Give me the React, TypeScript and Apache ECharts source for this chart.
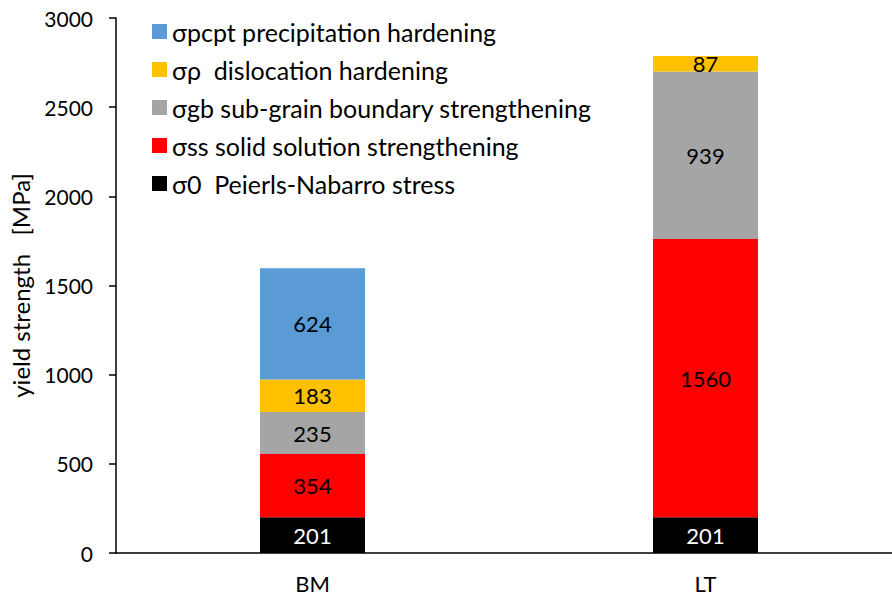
import React, { useEffect, useRef } from "react";
import * as echarts from "echarts";

const categories = ["BM", "LT"];
const sigma0 = [201, 201];
const sigmaSS = [354, 1560];
const sigmaGB = [235, 939];
const sigmaRho = [183, 87];
const sigmaPcpt: (number | null)[] = [624, null];

const names = {
  p0: "σ0  Peierls-Nabarro stress",
  ss: "σss solid solution strengthening",
  gb: "σgb sub-grain boundary strengthening",
  rho: "σρ  dislocation hardening",
  pcpt: "σpcpt precipitation hardening",
};

const FONT = "Lato, 'Open Sans', sans-serif";

export default function App() {
  const ref = useRef<HTMLDivElement>(null);
  useEffect(() => {
    if (!ref.current) return;
    const chart = echarts.init(ref.current, undefined, { renderer: "svg" });
    const mk = (name: string, data: (number | null)[], color: string, labelColor: string) => ({
      name,
      type: "bar",
      stack: "total",
      barWidth: 105,
      data,
      itemStyle: { color },
      label: {
        show: true,
        position: "inside",
        color: labelColor,
        fontFamily: FONT,
        fontSize: 22,
        formatter: (p: any) => (p.value == null ? "" : String(p.value)),
      },
    });
    chart.setOption({
      animation: false,
      textStyle: { fontFamily: FONT },
      grid: { left: 116, right: 0, top: 18, bottom: 48 },
      legend: {
        orient: "vertical",
        left: 147,
        top: 14,
        itemWidth: 15,
        itemHeight: 15,
        itemGap: 13,
        icon: "rect",
        textStyle: { fontFamily: FONT, fontSize: 25, color: "#000" },
        data: [names.pcpt, names.rho, names.gb, names.ss, names.p0],
      },
      xAxis: {
        type: "category",
        data: categories,
        axisLine: { lineStyle: { color: "#000", width: 1.5 } },
        axisTick: { show: false },
        axisLabel: { fontFamily: FONT, fontSize: 22, color: "#000", margin: 19 },
      },
      yAxis: {
        type: "value",
        min: 0,
        max: 3000,
        interval: 500,
        name: "yield strength   [MPa]",
        nameLocation: "middle",
        nameGap: 84,
        nameTextStyle: { fontFamily: FONT, fontSize: 24, color: "#000" },
        axisLine: { show: true, lineStyle: { color: "#000", width: 1.5 } },
        axisTick: { show: true, length: 7, lineStyle: { color: "#000", width: 1.5 } },
        splitLine: { show: false },
        axisLabel: {
          fontFamily: FONT,
          fontSize: 21,
          color: "#000",
          margin: 23,
          formatter: (v: number) => String(v),
        },
      },
      series: [
        mk(names.p0, sigma0, "#000000", "#ffffff"),
        mk(names.ss, sigmaSS, "#FF0000", "#000000"),
        mk(names.gb, sigmaGB, "#A5A5A5", "#000000"),
        mk(names.rho, sigmaRho, "#FFC000", "#000000"),
        mk(names.pcpt, sigmaPcpt, "#5B9BD5", "#000000"),
      ],
    });
    return () => chart.dispose();
  }, []);
  return (
    <div style={{ position: "absolute", left: 0, top: 0, width: 892, height: 601, overflow: "hidden" }}>
      <div ref={ref} style={{ width: 902, height: 601 }} />
    </div>
  );
}
